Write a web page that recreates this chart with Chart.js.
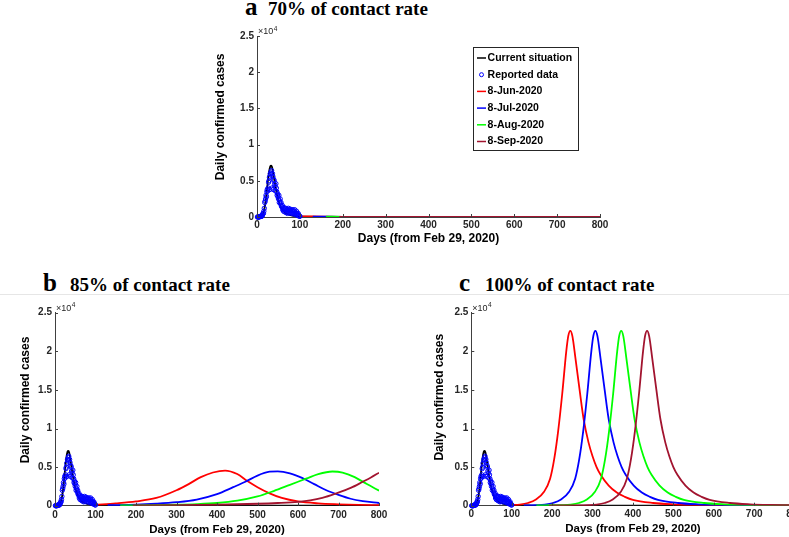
<!DOCTYPE html>
<html>
<head>
<meta charset="utf-8">
<script src="https://cdn.jsdelivr.net/npm/chart.js@4.4.1/dist/chart.umd.min.js"></script>
<style>
  html, body { margin: 0; padding: 0; width: 789px; height: 537px; overflow: hidden; background: #fff; }
  canvas { position: absolute; }
  .t { position: absolute; font-family: "Liberation Serif", "Times New Roman", serif; font-weight: bold; color: #000; white-space: nowrap; }
  .L { font-size: 25px; line-height: 25px; }
  .T { font-size: 19px; line-height: 19px; }
  #sep { position: absolute; left: 0; top: 294px; width: 789px; height: 1px; background: #e6e6e6; }
</style>
</head>
<body>
<span class="t L" style="left:245px;top:-6px">a</span>
<span class="t T" style="left:268px;top:-1px">70% of contact rate</span>
<div id="sep"></div>
<span class="t L" style="left:43px;top:270px">b</span>
<span class="t T" style="left:70px;top:275px">85% of contact rate</span>
<span class="t L" style="left:459px;top:270px">c</span>
<span class="t T" style="left:485px;top:275px">100% of contact rate</span>

<canvas id="chart-a" width="425" height="227" style="left:195px;top:20px"></canvas>
<canvas id="chart-b" width="395" height="239" style="left:0px;top:298px"></canvas>
<canvas id="chart-c" width="400" height="239" style="left:420px;top:298px"></canvas>

<script>
// axis text
const xTitle = 'Days (from Feb 29, 2020)';
const yTitle = 'Daily confirmed cases';
const yTicks = [0, 5000, 10000, 15000, 20000, 25000];

// legend labels
const labels = ['Current situation', 'Reported data', '8-Jun-2020', '8-Jul-2020', '8-Aug-2020', '8-Sep-2020'];

// current situation (model fit), daily cases
const currentDays = [0, 5, 10, 13, 16, 19, 22, 25, 28, 31, 33, 35, 38, 41, 44, 47, 50, 54, 58, 63, 68, 75, 82, 90, 100, 150, 200, 300, 400, 500, 600, 700, 800];
const currentCases = [0, 20, 100, 300, 800, 1700, 3100, 4800, 6200, 7000, 7100, 6900, 6000, 4900, 3900, 3000, 2300, 1600, 1100, 750, 500, 320, 200, 130, 80, 20, 10, 0, 0, 0, 0, 0, 0];

// reported data, days 1..100
const reportedCases = [
  0, 0, 0, 0, 0, 50, 50, 100, 100, 100,
  100, 200, 300, 500, 500, 800, 1200, 2000, 2200, 2500,
  3000, 2800, 3500, 3800, 3600, 4000, 4800, 5000, 5500, 3800,
  6000, 5800, 6200, 6400, 4000, 6000, 5600, 3800, 5200, 5000,
  4500, 4200, 3600, 4600, 4000, 3500, 3000, 3200, 2800, 2500,
  3000, 2000, 2200, 2500, 1800, 2000, 1500, 1400, 1600, 1000,
  1200, 800, 1300, 1000, 700, 1100, 1200, 600, 900, 1000,
  500, 800, 1200, 1000, 600, 900, 1100, 500, 800, 1000,
  600, 900, 500, 1000, 700, 400, 800, 1000, 500, 600,
  300, 800, 500, 400, 200, 500, 300, 200, 100, 100
];
const reportedDays = reportedCases.map((_, i) => i + 1);

// 70% of contact rate
const jun70Days = [100, 130, 160, 200, 300, 400, 500, 600, 700, 800];
const jun70 = [100, 70, 50, 30, 12, 5, 2, 1, 0, 0];
const jul70Days = [130, 160, 200, 300, 400, 500, 600, 700, 800];
const jul70 = [60, 45, 30, 12, 5, 2, 1, 0, 0];
const aug70Days = [161, 200, 300, 400, 500, 600, 700, 800];
const aug70 = [40, 30, 12, 5, 2, 1, 0, 0];
const sep70Days = [192, 300, 400, 500, 600, 700, 800];
const sep70 = [30, 12, 5, 2, 1, 0, 0];

// 85% of contact rate
const jun85Days = [100, 150, 200, 250, 300, 330, 360, 390, 420, 450, 475, 500, 530, 560, 600, 650, 700, 750, 800];
const jun85 = [120, 300, 550, 1000, 2000, 2800, 3700, 4300, 4550, 4100, 3200, 2400, 1600, 1000, 550, 300, 180, 100, 60];
const jul85Days = [130, 200, 250, 300, 350, 400, 440, 470, 500, 530, 550, 580, 610, 640, 670, 700, 730, 760, 800];
const jul85 = [60, 120, 250, 450, 800, 1500, 2400, 3100, 3900, 4400, 4450, 4200, 3600, 2800, 2000, 1400, 900, 600, 350];
const aug85Days = [161, 250, 300, 350, 400, 450, 500, 540, 580, 620, 650, 685, 710, 740, 770, 800];
const aug85 = [40, 80, 120, 200, 350, 650, 1200, 1900, 2700, 3500, 4100, 4430, 4300, 3700, 2800, 1950];
const sep85Days = [192, 300, 400, 500, 550, 600, 630, 660, 695, 730, 760, 780, 800];
const sep85 = [30, 60, 120, 250, 350, 500, 680, 1000, 1600, 2300, 3100, 3650, 4270];

// 100% of contact rate
const jun100Days = [100, 120, 140, 160, 180, 195, 205, 215, 225, 235, 240, 245, 250, 258, 268, 278, 290, 300, 310, 320, 340, 360, 380, 400, 450, 500, 550, 600, 700, 800];
const jun100 = [80, 150, 350, 800, 1800, 3500, 6000, 9700, 14500, 20000, 22000, 22650, 22000, 19000, 15000, 11200, 8200, 6400, 5000, 4000, 2600, 1700, 1150, 750, 350, 180, 100, 60, 20, 10];
const jul100Days = [130, 162, 182, 202, 222, 242, 257, 267, 277, 287, 297, 302, 307, 312, 320, 330, 340, 352, 362, 372, 382, 402, 422, 442, 462, 512, 562, 612, 662, 762, 800];
const jul100 = [40, 80, 150, 350, 800, 1800, 3500, 6000, 9700, 14500, 20000, 22000, 22650, 22000, 19000, 15000, 11200, 8200, 6400, 5000, 4000, 2600, 1700, 1150, 750, 350, 180, 100, 60, 20, 15];
const aug100Days = [161, 200, 226, 246, 266, 286, 306, 321, 331, 341, 351, 361, 366, 371, 376, 384, 394, 404, 416, 426, 436, 446, 466, 486, 506, 526, 576, 626, 676, 726, 800];
const aug100 = [30, 60, 80, 150, 350, 800, 1800, 3500, 6000, 9700, 14500, 20000, 22000, 22650, 22000, 19000, 15000, 11200, 8200, 6400, 5000, 4000, 2600, 1700, 1150, 750, 350, 180, 100, 60, 30];
const sep100Days = [192, 250, 290, 310, 330, 350, 370, 385, 395, 405, 415, 425, 430, 435, 440, 448, 458, 468, 480, 490, 500, 510, 530, 550, 570, 590, 640, 690, 740, 790, 800];
const sep100 = [20, 40, 80, 150, 350, 800, 1800, 3500, 6000, 9700, 14500, 20000, 22000, 22650, 22000, 19000, 15000, 11200, 8200, 6400, 5000, 4000, 2600, 1700, 1150, 750, 350, 180, 100, 60, 50];

const FONT = '"Liberation Sans", Arial, Helvetica, sans-serif';
const colors = ['#000000', '#0000ff', '#ff0000', '#0000ff', '#00ff00', '#a2142f'];

const pts = (xs, ys) => xs.map((x, i) => ({ x, y: ys[i] }));

function datasets(proj) {
  const curve = (i, xs, ys, order) => ({
    label: labels[i], data: pts(xs, ys), borderColor: colors[i], borderWidth: 1.8,
    pointRadius: 0, fill: false, cubicInterpolationMode: 'monotone', order
  });
  return [
    curve(0, currentDays, currentCases, 5),
    { label: labels[1], data: pts(reportedDays, reportedCases), showLine: false, borderColor: colors[1],
      backgroundColor: 'rgba(0,0,0,0)', pointRadius: 2.2, pointBorderWidth: 1, clip: false, order: 0 },
    curve(2, proj[0][0], proj[0][1], 4),
    curve(3, proj[1][0], proj[1][1], 3),
    curve(4, proj[2][0], proj[2][1], 2),
    curve(5, proj[3][0], proj[3][1], 1)
  ];
}

// inward ticks, x10^4 multiplier, y axis title, legend box
const decor = {
  id: 'decor',
  afterDraw(chart, args, o) {
    const { ctx, chartArea: a, scales: { x, y } } = chart;
    ctx.save();
    ctx.strokeStyle = '#404040';
    ctx.lineWidth = 1;
    ctx.beginPath();
    x.ticks.forEach(t => {
      const px = Math.round(x.getPixelForValue(t.value)) + 0.5;
      ctx.moveTo(px, a.bottom); ctx.lineTo(px, a.bottom - 3);
    });
    y.ticks.forEach(t => {
      const py = Math.round(y.getPixelForValue(t.value)) + 0.5;
      ctx.moveTo(a.left, py); ctx.lineTo(a.left + 3, py);
    });
    ctx.stroke();

    ctx.fillStyle = '#262626';
    ctx.textAlign = 'left';
    ctx.textBaseline = 'alphabetic';
    ctx.font = '9px ' + FONT;
    ctx.fillText('×10', a.left + 1, a.top - 2);
    const w = ctx.measureText('×10').width;
    ctx.font = '6.5px ' + FONT;
    ctx.fillText('4', a.left + 1.5 + w, a.top - 5.5);

    ctx.save();
    ctx.fillStyle = '#000';
    ctx.font = 'bold 12px ' + FONT;
    ctx.textAlign = 'center';
    ctx.textBaseline = 'middle';
    ctx.translate(a.left + o.titleDx, (a.top + a.bottom) / 2 + o.titleDy);
    ctx.rotate(-Math.PI / 2);
    ctx.fillText(yTitle, 0, 0);
    ctx.restore();

    if (o.legend) {
      const L = o.legend;
      const bx = Math.round(a.right - L.right - L.w), by = Math.round(a.top + L.top);
      ctx.fillStyle = '#fff';
      ctx.fillRect(bx, by, L.w, L.h);
      ctx.strokeStyle = '#262626';
      ctx.strokeRect(bx + 0.5, by + 0.5, L.w, L.h);
      ctx.font = 'bold 10.5px ' + FONT;
      ctx.textBaseline = 'middle';
      chart.data.datasets.forEach((ds, i) => {
        const cy = by + L.first + i * L.gap;
        if (ds.showLine === false) {
          ctx.strokeStyle = ds.borderColor;
          ctx.lineWidth = 1;
          ctx.beginPath();
          ctx.arc(bx + 8.5, cy, 2, 0, Math.PI * 2);
          ctx.stroke();
        } else {
          ctx.strokeStyle = ds.borderColor;
          ctx.lineWidth = 1.5;
          ctx.beginPath();
          ctx.moveTo(bx + 4, cy); ctx.lineTo(bx + 13, cy);
          ctx.stroke();
        }
        ctx.fillStyle = '#000';
        ctx.fillText(ds.label, bx + 14.6, cy);
      });
    }
    ctx.restore();
  }
};

function makeChart(id, proj, g) {
  const tickFont = { family: FONT, size: 10, weight: 'bold' };
  return new Chart(document.getElementById(id), {
    type: 'line',
    data: { datasets: datasets(proj) },
    options: {
      responsive: false,
      animation: false,
      layout: { padding: g.pad },
      plugins: {
        legend: { display: false },
        tooltip: { enabled: false },
        decor: { titleDx: g.titleDx, titleDy: g.titleDy, legend: g.legend }
      },
      scales: {
        x: {
          type: 'linear', min: 0, max: 800,
          ticks: { stepSize: 100, padding: g.xTickPad, color: '#262626', font: tickFont, maxRotation: 0, autoSkip: false },
          grid: { display: true, drawOnChartArea: false, drawTicks: false },
          border: { display: true, color: '#404040', width: 1 },
          title: { display: true, text: xTitle, color: '#000', font: { family: FONT, size: g.xTitleSize, weight: 'bold' },
                   padding: { top: 0, bottom: g.xTitlePb } },
          afterFit: s => { s.height = g.xH; }
        },
        y: {
          type: 'linear', min: 0, max: 25000,
          afterBuildTicks: s => { s.ticks = yTicks.map(v => ({ value: v })); },
          ticks: { padding: 3, color: '#262626', font: tickFont, callback: v => v / 10000 },
          grid: { display: true, drawOnChartArea: false, drawTicks: false },
          border: { display: true, color: '#404040', width: 1 },
          afterFit: s => { s.width = g.yW; }
        }
      }
    },
    plugins: [decor]
  });
}

makeChart('chart-a', [[jun70Days, jun70], [jul70Days, jul70], [aug70Days, aug70], [sep70Days, sep70]], {
  pad: { top: 16, right: 20, bottom: 0, left: 0 }, yW: 62, xH: 30, xTickPad: 2, xTitlePb: 0.8, xTitleSize: 12,
  titleDx: -36.5, titleDy: -9.6,
  legend: { right: 22, w: 105, top: 10.7, h: 103, first: 11, gap: 16.7 }
});
makeChart('chart-b', [[jun85Days, jun85], [jul85Days, jul85], [aug85Days, aug85], [sep85Days, sep85]], {
  pad: { top: 14.7, right: 16, bottom: 0, left: 0 }, yW: 55, xH: 31.3, xTickPad: 4, xTitlePb: 0.3, xTitleSize: 11.5,
  titleDx: -29, titleDy: -9.2
});
makeChart('chart-c', [[jun100Days, jun100], [jul100Days, jul100], [aug100Days, aug100], [sep100Days, sep100]], {
  pad: { top: 14.7, right: 25.4, bottom: 0, left: 0 }, yW: 51.3, xH: 31.3, xTickPad: 2.5, xTitlePb: 1.4, xTitleSize: 11.5,
  titleDx: -32, titleDy: -12
});
</script>
</body>
</html>
